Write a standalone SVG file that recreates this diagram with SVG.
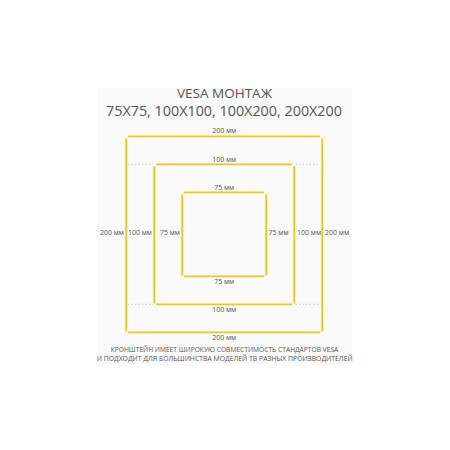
<svg xmlns="http://www.w3.org/2000/svg" width="450" height="450" viewBox="0 0 450 450">
  <style>
    .y { stroke: #f6c31a; stroke-width: 1.8; fill: none; }
    .d { stroke: #c8c8c8; stroke-width: 1; stroke-dasharray: 1.5 2; fill: none; }
    .t { font-family: "Open Sans", "Liberation Sans", sans-serif; fill: #555; }
    .s { font-family: "Open Sans", "Liberation Sans", sans-serif; fill: #555; font-size: 7px; }
  </style>
  <rect x="0" y="0" width="450" height="450" fill="#ffffff"/>
  <rect x="97" y="88" width="255" height="277" fill="#fafafa"/>

  <g id="title">
    <text class="t" x="224.5" y="98" font-size="12.5" text-anchor="middle" textLength="95" lengthAdjust="spacingAndGlyphs">VESA МОНТАЖ</text>
    <text class="t" x="224" y="116" font-size="14.5" text-anchor="middle" textLength="236" lengthAdjust="spacingAndGlyphs">75X75, 100X100, 100X200, 200X200</text>
  </g>

  <g id="guides">
    <line class="d" x1="128" y1="164.3" x2="153" y2="164.3"/>
    <line class="d" x1="295.5" y1="164.3" x2="320.5" y2="164.3"/>
    <line class="d" x1="128" y1="304.3" x2="153" y2="304.3"/>
    <line class="d" x1="295.5" y1="304.3" x2="320.5" y2="304.3"/>
  </g>

  <g id="square-200">
    <line class="y" x1="128.2" y1="136.3" x2="320.2" y2="136.3"/>
    <line class="y" x1="128.2" y1="332.3" x2="320.2" y2="332.3"/>
    <line class="y" x1="126.2" y1="138.3" x2="126.2" y2="331.5"/>
    <line class="y" x1="322.2" y1="138.3" x2="322.2" y2="331.5"/>
    <text class="s" x="224.2" y="133" text-anchor="middle">200 мм</text>
    <text class="s" x="224.2" y="340" text-anchor="middle">200 мм</text>
    <text class="s" x="124" y="235" text-anchor="end">200 мм</text>
    <text class="s" x="325" y="235">200 мм</text>
  </g>

  <g id="square-100">
    <line class="y" x1="156.2" y1="164.3" x2="292.2" y2="164.3"/>
    <line class="y" x1="156.2" y1="304.3" x2="292.2" y2="304.3"/>
    <line class="y" x1="154.2" y1="166.3" x2="154.2" y2="303.5"/>
    <line class="y" x1="294.2" y1="166.3" x2="294.2" y2="303.5"/>
    <text class="s" x="224.2" y="161.5" text-anchor="middle">100 мм</text>
    <text class="s" x="224.2" y="312" text-anchor="middle">100 мм</text>
    <text class="s" x="152" y="235" text-anchor="end">100 мм</text>
    <text class="s" x="297" y="235">100 мм</text>
  </g>

  <g id="square-75">
    <line class="y" x1="184.2" y1="192.3" x2="264.2" y2="192.3"/>
    <line class="y" x1="184.2" y1="276.3" x2="264.2" y2="276.3"/>
    <line class="y" x1="182.2" y1="194.3" x2="182.2" y2="275.5"/>
    <line class="y" x1="266.2" y1="194.3" x2="266.2" y2="275.5"/>
    <text class="s" x="224.2" y="189.5" text-anchor="middle">75 мм</text>
    <text class="s" x="224.2" y="284" text-anchor="middle">75 мм</text>
    <text class="s" x="180" y="235" text-anchor="end">75 мм</text>
    <text class="s" x="268.5" y="235">75 мм</text>
  </g>

  <g id="caption">
    <text class="t" x="224.5" y="352.3" font-size="6.8" text-anchor="middle" textLength="227.6" lengthAdjust="spacingAndGlyphs">КРОНШТЕЙН ИМЕЕТ ШИРОКУЮ СОВМЕСТИМОСТЬ СТАНДАРТОВ VESA</text>
    <text class="t" x="224.7" y="360.7" font-size="6.8" text-anchor="middle" textLength="256" lengthAdjust="spacingAndGlyphs">И ПОДХОДИТ ДЛЯ БОЛЬШИНСТВА МОДЕЛЕЙ ТВ РАЗНЫХ ПРОИЗВОДИТЕЛЕЙ</text>
  </g>
</svg>
